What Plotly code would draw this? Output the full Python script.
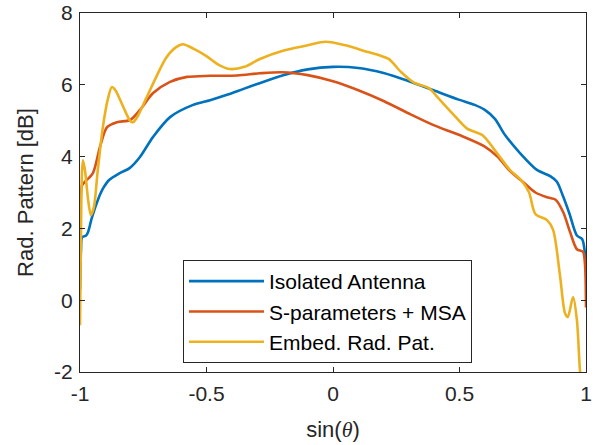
import plotly.graph_objects as go

# ---- data ----
iso_x = [-1.0, -0.996, -0.992, -0.976, -0.968, -0.953, -0.929, -0.91, -0.885, -0.843,
         -0.804, -0.763, -0.711, -0.644, -0.553, -0.486, -0.419, -0.356, -0.3, -0.2,
         -0.1, 0.0, 0.1, 0.2, 0.3, 0.4, 0.5, 0.56, 0.6, 0.64,
         0.68, 0.739, 0.806, 0.86, 0.885, 0.909, 0.935, 0.964, 0.985, 0.996, 1.0]
iso_y = [0.3, 1.4, 1.75, 1.8, 1.9, 2.3, 2.8, 3.1, 3.35, 3.54,
         3.68, 3.99, 4.55, 5.1, 5.44, 5.57, 5.72, 5.88, 6.02, 6.26,
         6.43, 6.5, 6.47, 6.33, 6.1, 5.84, 5.58, 5.44, 5.3, 5.05,
         4.6, 4.1, 3.63, 3.45, 3.3, 2.9, 2.4, 1.8, 1.7, 1.3, 1.0]

msa_x = [-1.0, -0.992, -0.98, -0.949, -0.921, -0.893, -0.854, -0.802, -0.763, -0.711,
         -0.644, -0.577, -0.486, -0.379, -0.289, -0.2, -0.1, 0.0, 0.1, 0.2,
         0.3, 0.4, 0.5, 0.6, 0.65, 0.7, 0.75, 0.8, 0.85, 0.88,
         0.91, 0.937, 0.964, 0.988, 0.996, 1.0]
msa_y = [1.7, 3.2, 3.3, 3.54, 4.27, 4.82, 4.96, 5.02, 5.3, 5.77,
         6.08, 6.22, 6.25, 6.26, 6.32, 6.35, 6.27, 6.1, 5.85, 5.55,
         5.2, 4.87, 4.6, 4.28, 4.0, 3.6, 3.3, 3.0, 2.86, 2.8,
         2.45, 1.9, 1.42, 1.35, 1.0, -0.2]

emb_x = [-1.0, -0.996, -0.992, -0.988, -0.98, -0.968, -0.957, -0.945, -0.93, -0.91,
         -0.89, -0.874, -0.86, -0.83, -0.802, -0.79, -0.77, -0.74, -0.70, -0.66,
         -0.62, -0.593, -0.55, -0.50, -0.45, -0.407, -0.35, -0.289, -0.198, -0.1,
         -0.03, 0.05, 0.12, 0.18, 0.22, 0.27, 0.32, 0.38, 0.42, 0.47,
         0.53, 0.59, 0.648, 0.699, 0.743, 0.775, 0.8, 0.846, 0.87, 0.897,
         0.917, 0.928, 0.949, 0.964, 0.976, 0.99]
emb_y = [-0.7, 2.0, 3.6, 3.9, 3.6, 2.8, 2.37, 2.6, 3.6, 4.8,
         5.6, 5.94, 5.85, 5.4, 5.0, 4.96, 5.15, 5.6, 6.2, 6.75,
         7.05, 7.13, 7.0, 6.8, 6.55, 6.44, 6.5, 6.72, 6.95, 7.1,
         7.2, 7.1, 6.95, 6.83, 6.72, 6.35, 6.06, 5.9, 5.6, 5.22,
         4.78, 4.6, 4.1, 3.63, 3.35, 3.0, 2.4, 2.23, 1.96, 0.7,
         -0.36, -0.47, 0.09, -0.55, -1.95, -3.0]

series_names = ["Isolated Antenna", "S-parameters + MSA", "Embed. Rad. Pat."]
series_colors = ["#0072BD", "#D95319", "#EDB120"]

x_tickvals = [-1, -0.5, 0, 0.5, 1]
x_ticktext = ["-1", "-0.5", "0", "0.5", "1"]
y_tickvals = [-2, 0, 2, 4, 6, 8]
y_ticktext = ["-2", "0", "2", "4", "6", "8"]

fig = go.Figure()
for xs, ys, name, col in zip([iso_x, msa_x, emb_x], [iso_y, msa_y, emb_y],
                             series_names, series_colors):
    fig.add_trace(go.Scatter(x=xs, y=ys, mode="lines", name=name,
                             line=dict(color=col, width=2.6, shape="spline", smoothing=0.8)))

axis_common = dict(showgrid=False, zeroline=False, showline=True, mirror="ticks",
                   linecolor="#262626", linewidth=1, ticks="inside", ticklen=5,
                   tickcolor="#262626", tickfont=dict(family="Liberation Sans, Arial",
                                                      size=21, color="#262626"))

fig.update_layout(
    width=596, height=445,
    margin=dict(l=80, r=10, t=13, b=73),
    paper_bgcolor="white", plot_bgcolor="white",
    font=dict(family="Liberation Sans, Arial", color="#262626"),
    xaxis=dict(range=[-1, 1], tickvals=x_tickvals, ticktext=x_ticktext,
               ticklabelstandoff=3,
               title=dict(text="sin(<span style=\"font-family:'Liberation Serif'\"><i>θ</i></span>)",
                          font=dict(size=22), standoff=17),
               automargin=False,
               **axis_common),
    yaxis=dict(range=[-2, 8], tickvals=y_tickvals, ticktext=y_ticktext,
               ticklabelstandoff=2,
               title=dict(text="Rad. Pattern [dB]", font=dict(size=22), standoff=14),
               automargin=False,
               **axis_common),
    legend=dict(x=0.2036, y=0.312, xanchor="left", yanchor="top",
                bgcolor="white", bordercolor="#262626", borderwidth=1,
                font=dict(size=21, color="black"), itemwidth=75,
                tracegroupgap=0),
    showlegend=True,
)

fig.write_html("out.html")
